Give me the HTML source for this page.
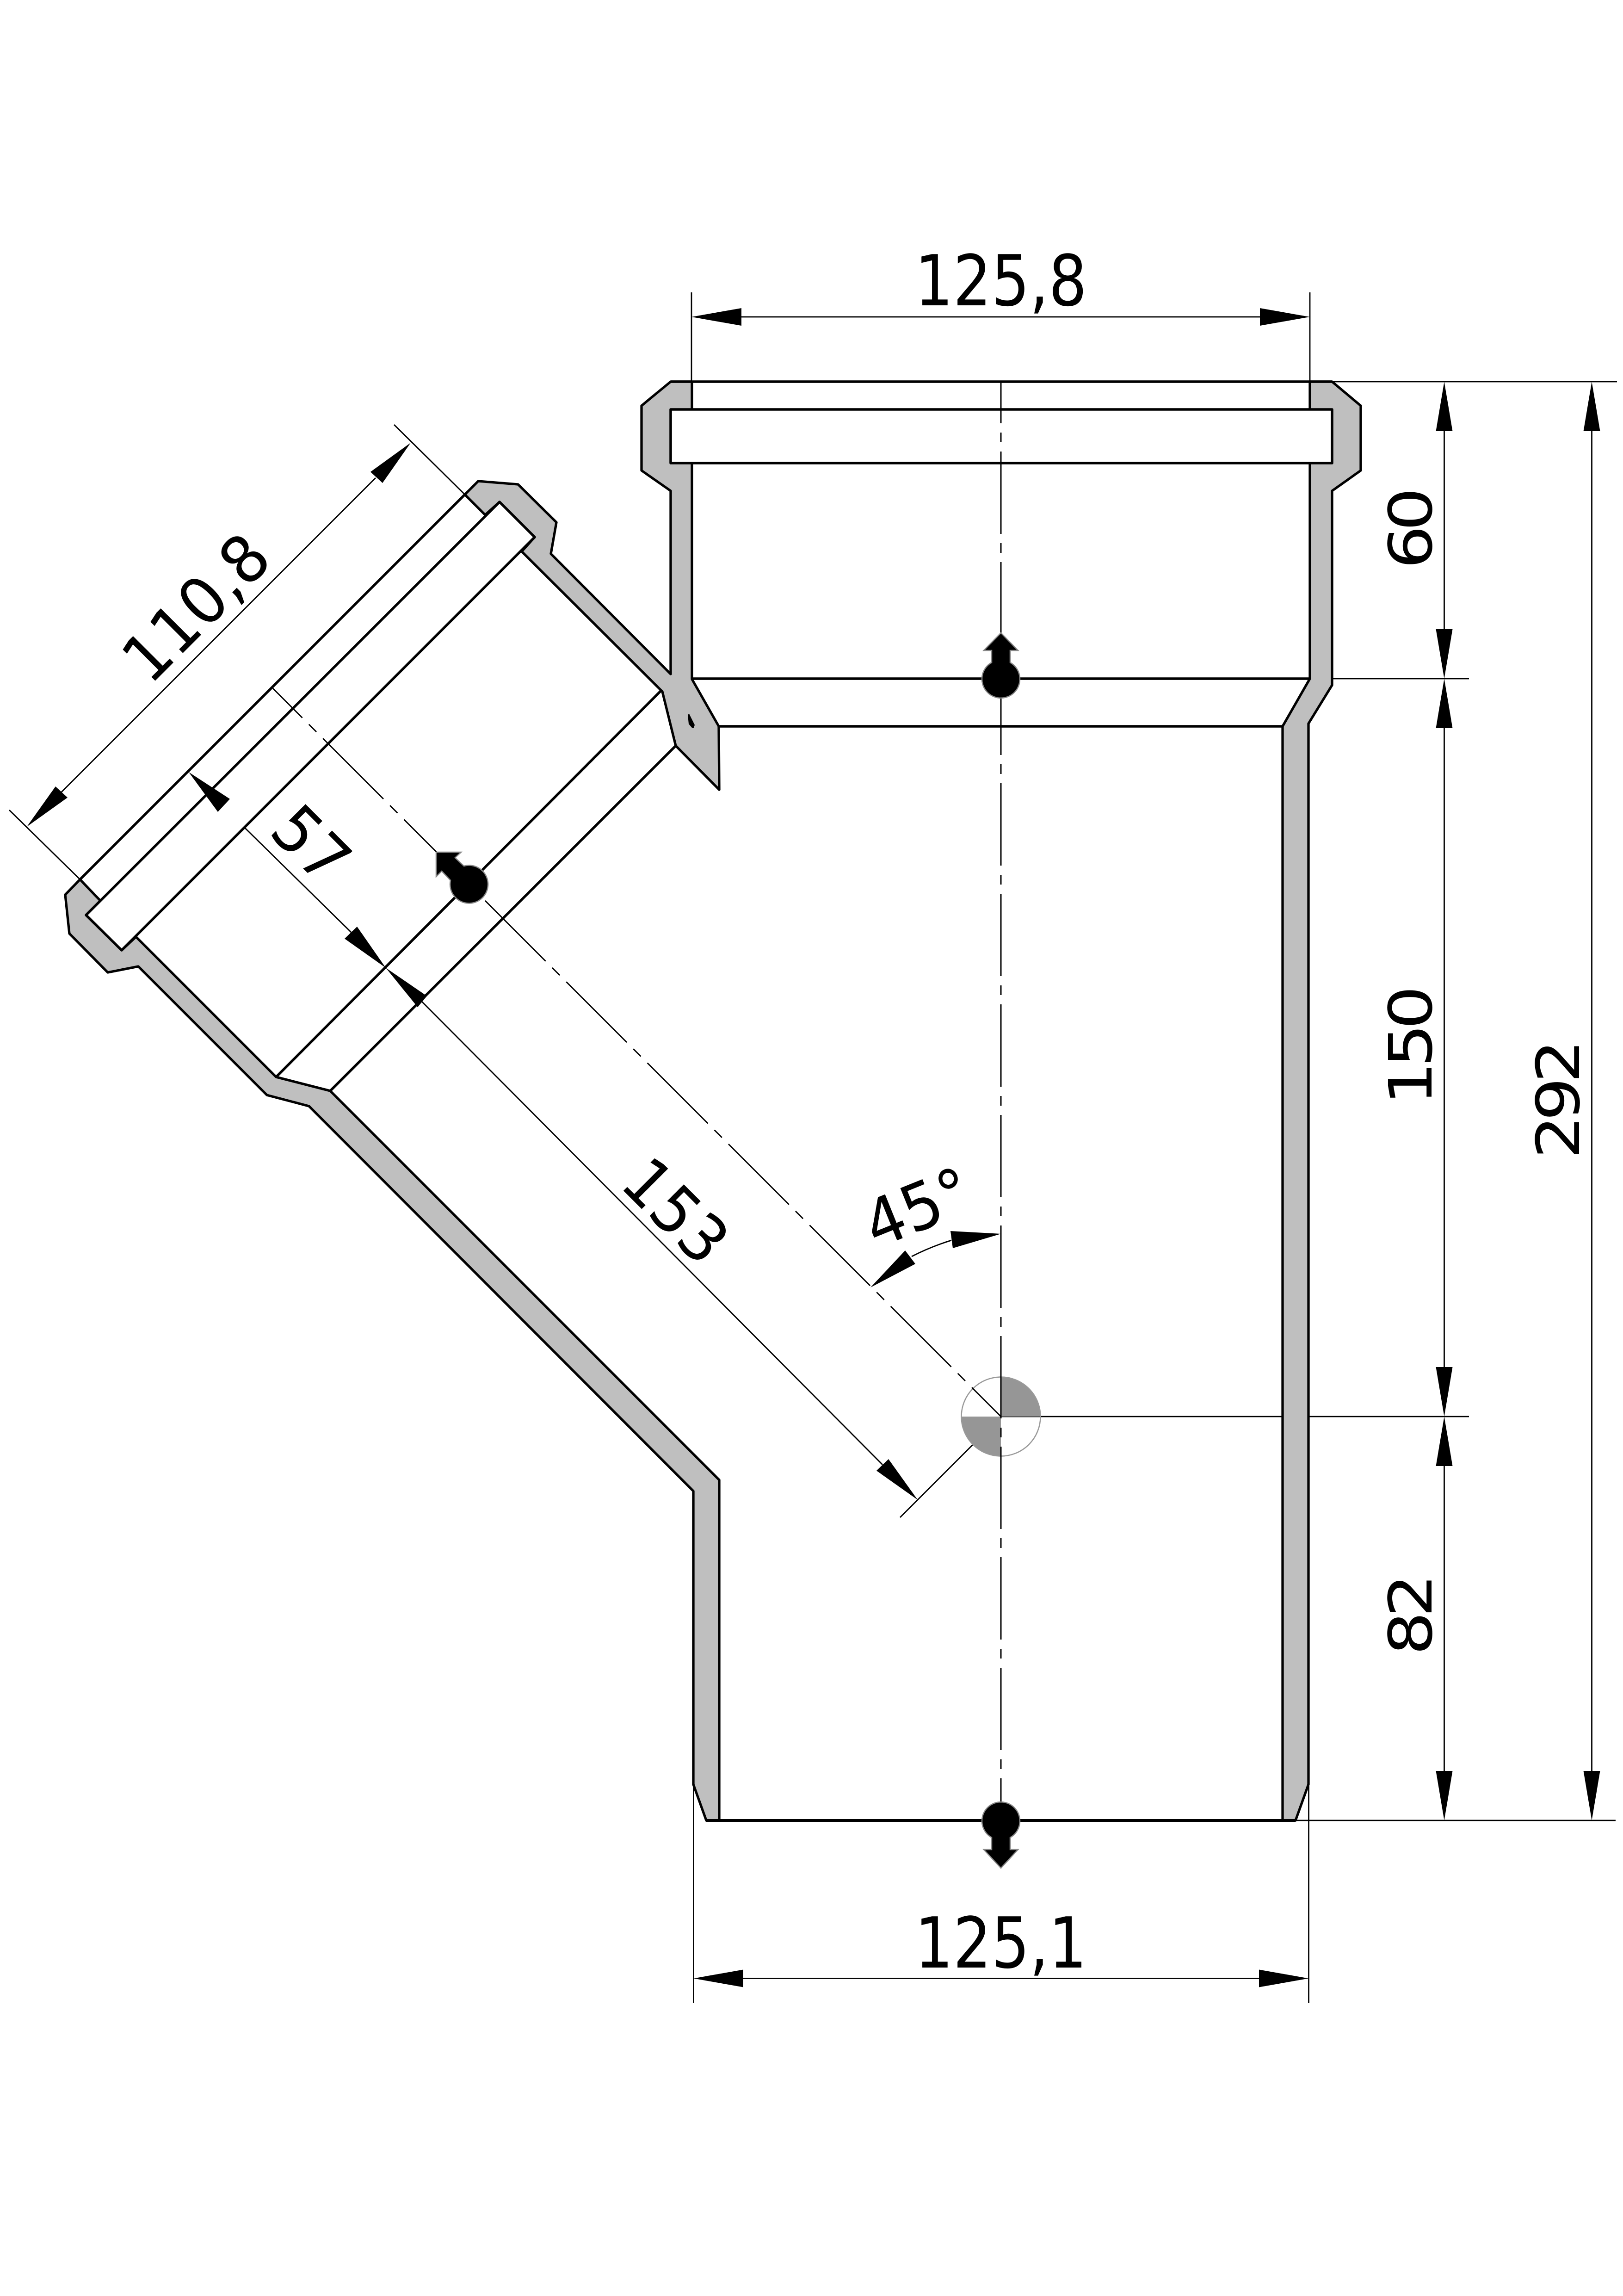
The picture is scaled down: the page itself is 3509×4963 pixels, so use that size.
<!DOCTYPE html>
<html><head><meta charset="utf-8"><style>html,body{margin:0;padding:0;background:#fff}svg{display:block}text{font-family:"DejaVu Sans","Liberation Sans",sans-serif;font-size:152px;fill:#000;text-anchor:middle}text.r{font-size:129px;letter-spacing:-10.8px;text-anchor:start}text.d{font-size:140px}</style></head>
<body>
<svg xmlns="http://www.w3.org/2000/svg" width="3509" height="4963" viewBox="0 0 3509 4963">
<rect width="3509" height="4963" fill="#fff"/>
<g fill="none" stroke="#000" stroke-width="2.800">
<path d="M1495 632V825M2832 632V825M1499.500 3857V4330M2829.500 3857V4330"/>
<path d="M2880 825H3496M2880 1467H3176M2164 3062H3176M2801 3935H3493"/>
<path d="M1603 685H2724M1607 4276.500H2722M3122.500 932V1360M3122.500 1574V2955M3122.500 3169V3829M3441.500 932V3829"/>
<path d="M20 1751L173 1901M852 918L1005 1069M120 1725L812 1033"/>
<path d="M480 1741L760 2016M912 2165L1908 3166M1946 3280L2164 3062"/>
<path d="M1971 2716Q2012 2695 2057 2681"/>
</g>
<g fill="#969696"><path d="M2164 2976.500A85.500 85.500 0 0 1 2249.500 3062H2164Z"/><path d="M2164 3147.500A85.500 85.500 0 0 1 2078.500 3062H2164Z"/></g>
<circle cx="2164" cy="3062" r="85.500" fill="none" stroke="#999" stroke-width="2.500"/>
<g fill="#bfbfbf" stroke="#000" stroke-width="5.300" stroke-linejoin="round">
<polygon points="1450,825 1387,877 1387,1017 1450,1061 1450,1457 1191,1197 1203,1129 1120,1047 1034,1040 1005,1069 1049,1113 1080,1085 1156,1161 1128,1192 1432,1495 1461,1612 1555,1707 1554,1570 1496,1468 1496,825"/>
<polygon points="173,1901 141,1934 150,2018 233,2102 299,2089 577,2367 668,2391 1499,3223 1499,3857 1527,3935 1555,3935 1555,3199 714,2358 597,2328 294,2025 263,2054 186,1978 217,1947"/>
<polygon points="2832,825 2880,825 2942,877 2942,1017 2880,1061 2880,1481 2829,1564 2829,3857 2801,3935 2773,3935 2773,1570 2832,1467"/>
</g>
<polygon points="1487,1545 1490,1543 1502,1567 1500,1573 1496,1573 1489,1565" fill="#000"/>
<g fill="#fff" stroke="#000" stroke-width="5.500" stroke-linejoin="round">
<rect x="1450" y="885" width="1430" height="116"/>
<polygon points="1080,1085 1156,1161 263,2054 186,1978"/>
</g>
<g fill="none" stroke="#000" stroke-width="5.500">
<path d="M1450 825H2880M1496 1467H2832M1554 1570H2773"/>
<path d="M1527 3935H2801" stroke-width="6"/>
<path d="M173 1901L1005 1069M1428 1494L597 2328M1461 1612L714 2358"/>
</g>
<path d="M2164 825V3936" fill="none" stroke="#000" stroke-width="3" stroke-dasharray="178 20 21 20" stroke-dashoffset="88"/>
<path d="M590 1488L2164 3062" fill="none" stroke="#000" stroke-width="2.800" stroke-dasharray="185 20 23 20" stroke-dashoffset="95"/>
<g fill="#000">
<polygon points="1495,685 1603,666 1603,704"/><polygon points="2832,685 2724,666 2724,704"/>
<polygon points="1499.500,4276.500 1607,4257.500 1607,4295.500"/><polygon points="2829.500,4276.500 2722,4257.500 2722,4295.500"/>
<polygon points="3122.500,825 3104.500,932 3140.500,932"/><polygon points="3122.500,1467 3104.500,1360 3140.500,1360"/>
<polygon points="3122.500,1467 3104.500,1574 3140.500,1574"/><polygon points="3122.500,3062 3104.500,2955 3140.500,2955"/>
<polygon points="3122.500,3062 3104.500,3169 3140.500,3169"/><polygon points="3122.500,3935 3104.500,3828 3140.500,3828"/>
<polygon points="3441.500,825 3423.500,932 3459.500,932"/><polygon points="3441.500,3935 3423.500,3828 3459.500,3828"/>
<polygon points="58,1787 120,1700 146,1724"/><polygon points="888,957 801,1020 827,1044"/>
<polygon points="408,1669 497,1727 471,1755"/><polygon points="834,2092 772,2003 745,2029"/>
<polygon points="834,2092 903,2177 923,2153"/><polygon points="1984,3242 1921,3154 1895,3179"/>
<polygon points="1882,2783 1957,2703 1979,2732"/><polygon points="2164,2667 2055,2661 2060,2698"/>
</g>
<g fill="#000" stroke="#888" stroke-width="2.500" stroke-linejoin="miter">
<path d="M2164 1368L2201 1406H2184V1432A41 41 0 1 1 2144 1432V1406H2127Z"/>
<path d="M2164 4038L2201 3998H2184V3972A41 41 0 1 0 2144 3972V3998H2127Z"/>
<path d="M943 1842L997 1842L984 1854L1003 1872A41 41 0 1 1 974 1903L955 1883L943 1895Z"/>
</g>
<text transform="translate(2164,660) scale(.855,1)">125,8</text>
<text transform="translate(2164,4253) scale(.855,1)">125,1</text>
<text class="r" transform="translate(3095,1230) rotate(-90) scale(1.15,1)">60</text>
<text class="r" transform="translate(3095,2389) rotate(-90) scale(1.15,1)">150</text>
<text class="r" transform="translate(3095,3578) rotate(-90) scale(1.15,1)">82</text>
<text class="r" transform="translate(3414,2505) rotate(-90) scale(1.15,1)">292</text>
<text class="d" transform="translate(458.500,1348.500) rotate(-45) scale(.95,1)">110,8</text>
<text class="d" transform="translate(638,1860) rotate(45) scale(.95,1)">57</text>
<text class="d" transform="translate(1426,2652) rotate(45) scale(.95,1)">153</text>
<text class="d" transform="translate(1893,2700) rotate(-22) scale(.95,1)" style="text-anchor:start">45°</text>
</svg>
</body></html>
